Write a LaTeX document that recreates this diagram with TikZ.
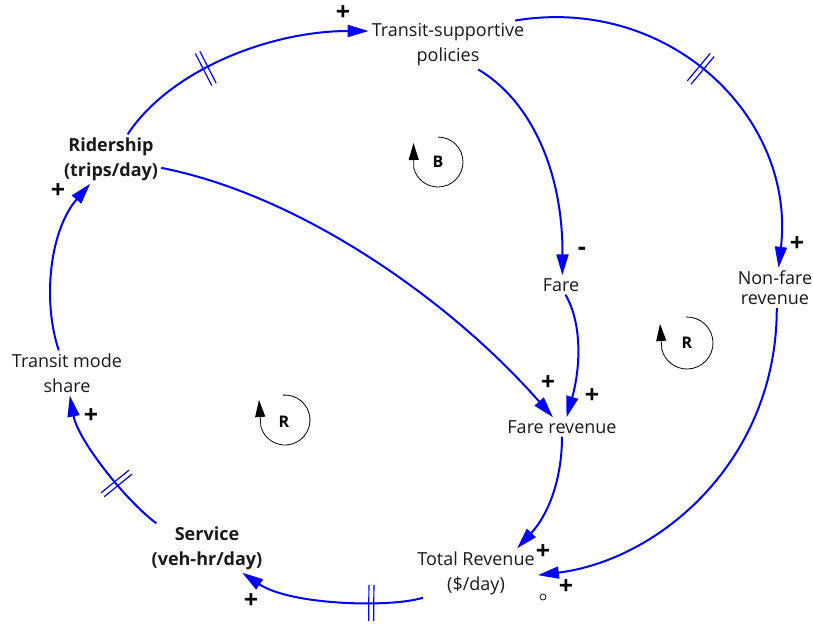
\documentclass[tikz,border=0pt]{standalone}
\usepackage{fontspec}
\setmainfont{Open Sans}
\usetikzlibrary{arrows.meta,decorations.markings}
\begin{document}
\begin{tikzpicture}[x=1pt,y=-1pt,
  var/.style={align=center, inner sep=3pt, text=black!90, font=\fontsize{18}{25}\selectfont},
  bvar/.style={var, font=\fontsize{18}{25}\selectfont\bfseries},
  link/.style={draw=blue, line width=2pt, -{Triangle[length=21pt,width=12pt]}},
  sgn/.style={inner sep=0pt, font=\fontsize{25}{25}\selectfont\bfseries},
  loopline/.style={line width=0.8pt, -{Triangle[length=17pt,width=10pt]}},
  looplabel/.style={inner sep=0pt, font=\fontsize{16}{16}\selectfont\bfseries},
  delaymark/.style={postaction={decorate, decoration={markings,
    mark=at position #1 with {\draw[-, blue, line width=1.2pt]
      (-2.5pt,-18pt) -- (-2.5pt,18pt) (2.5pt,-18pt) -- (2.5pt,18pt);}}}}
]
\useasboundingbox (0,0) rectangle (813,627);
\fill[white] (0,0) rectangle (813,627);

% variables
\node[var]  (pol)     at (448,45)  {Transit-supportive\\policies};
\node[bvar] (rid)     at (111,159) {Ridership\\(trips/day)};
\node[var]  (fare)    at (561,285) {Fare};
\node[var, font=\fontsize{18}{20}\selectfont] (nonfare) at (775,288) {Non-fare\\revenue};
\node[var]  (tms)     at (67,373)  {Transit mode\\share};
\node[var]  (farerev) at (562,427) {Fare revenue};
\node[var]  (total)   at (476,573) {Total Revenue\\(\$/day)};
\node[bvar] (service) at (207,548) {Service\\(veh-hr/day)};

% causal links
\draw[link, delaymark=0.38] (rid.56) .. controls (170,70) and (270,31) .. (pol.170);
\draw[link, delaymark=0.47] (pol.20) .. controls (669,-5) and (796,117) .. (nonfare.80);
\draw[link] (pol.-39) .. controls (530,100) and (563,170) .. (fare.82);
\draw[link] (rid.-10) .. controls (300,195) and (450,300) .. (farerev.133);
\draw[link] (fare.-65) .. controls (583,325) and (580,370) .. (farerev.65);
\draw[link] (farerev.-90) .. controls (562,480) and (548,515) .. (total.31);
\draw[link] (nonfare.-85) .. controls (777,460) and (660,560) .. (total.-2);
\draw[link, delaymark=0.28] (total.-155) .. controls (390,608) and (290,605) .. (service.-35);
\draw[link, delaymark=0.36] (service.154) .. controls (125,500) and (78,440) .. (tms.-83);
\draw[link] (tms.110) .. controls (42,300) and (50,230) .. (rid.-130);

% polarities
\node[sgn] (s1)  at (343,13)  {+};
\node[sgn] (s2)  at (797,244) {+};
\node[sgn] (s3)  at (582,251) {-};
\node[sgn] (s4)  at (548,383) {+};
\node[sgn] (s5)  at (592,396) {+};
\node[sgn] (s6)  at (543,552) {+};
\node[sgn] (s7)  at (566,587) {+};
\node[sgn] (s8)  at (251,601) {+};
\node[sgn] (s9)  at (91,416)  {+};
\node[sgn] (s10) at (58,191)  {+};

\node[circle, draw, line width=0.7pt, inner sep=0pt, minimum size=6pt] (dot) at (543,597) {};

% loop identifiers
\begin{scope}[shift={(438,162)}, y=1pt]
  \draw[loopline] (90:25) arc[start angle=90, end angle=-165, radius=25] -- (-24.5,19);
  \node[looplabel] (lb) at (0,0) {B};
\end{scope}
\begin{scope}[shift={(687,343)}, y=1pt]
  \draw[loopline] (92:26) arc[start angle=92, end angle=-165, radius=26] -- (-27,19);
  \node[looplabel] (lr1) at (0,0) {R};
\end{scope}
\begin{scope}[shift={(285,420)}, y=1pt]
  \draw[loopline] (95:25) arc[start angle=95, end angle=-165, radius=25] -- (-26,20);
  \node[looplabel] (lr2) at (-1,-2) {R};
\end{scope}
\end{tikzpicture}
\end{document}
